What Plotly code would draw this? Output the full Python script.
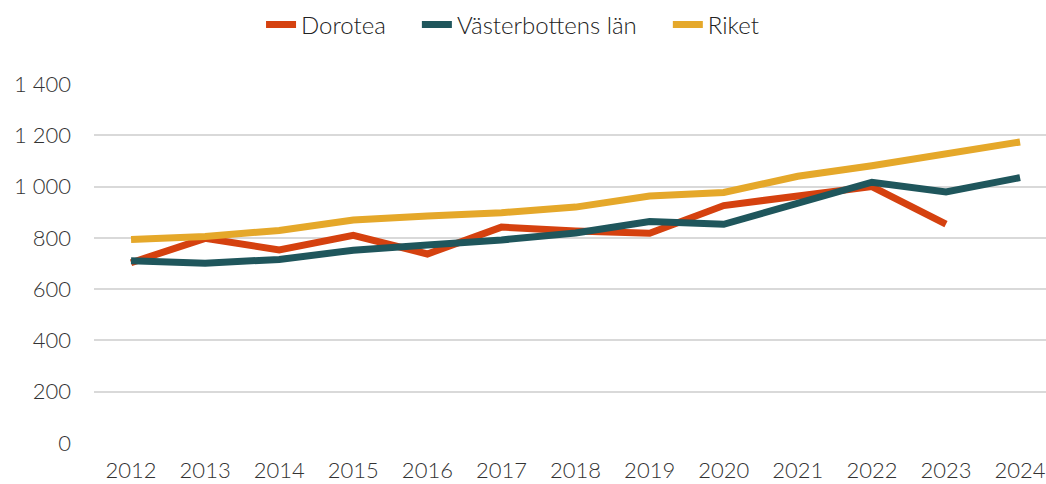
import plotly.graph_objects as go

years = list(range(2012, 2025))
dorotea = [703, 798, 753, 810, 737, 842, 827, 818, 926, 965, 1000, 854, None]
vasterbotten = [711, 701, 716, 752, 772, 792, 819, 864, 853, 937, 1017, 979, 1035]
riket = [794, 805, 829, 870, 885, 898, 920, 963, 977, 1040, 1081, 1128, 1174]
y_ticks = [0, 200, 400, 600, 800, 1000, 1200, 1400]

series = [("Dorotea", dorotea, "#D5410F"),
          ("Västerbottens län", vasterbotten, "#1F565C"),
          ("Riket", riket, "#E5A82A")]

font_family = "Lato, 'Open Sans', sans-serif"
pad = "\u00a0" * 4

fig = go.Figure()
for i, (name, vals, col) in enumerate(series):
    label = name + (pad if i < len(series) - 1 else "")
    fig.add_trace(go.Scatter(x=years, y=vals, name=label, mode="lines",
                             line=dict(color=col, width=7),
                             connectgaps=False))

fig.update_layout(
    width=1046, height=484,
    margin=dict(l=94, r=0, t=84, b=41),
    paper_bgcolor="white", plot_bgcolor="white",
    separators=", ",
    font=dict(family=font_family, size=22, color="#333333", weight=300),
    legend=dict(orientation="h", xref="container", yref="container",
                x=0.49, y=1 - 25 / 484, xanchor="center", yanchor="middle",
                font=dict(size=24, color="#222222", weight=300),
                tracegroupgap=0),
    showlegend=True,
)
fig.update_xaxes(range=[2011.5, 2024.35], tickvals=years,
                 ticktext=[str(y) for y in years],
                 showgrid=False, zeroline=False, showline=False,
                 ticks="", ticklabelstandoff=12, automargin=False)
fig.update_yaxes(range=[0, 1400], tickvals=y_ticks,
                 tickformat=",d", showgrid=True, gridcolor="#D9D9D9", gridwidth=2,
                 zeroline=False, showline=False, ticks="", ticklabelstandoff=22,
                 automargin=False)

fig.write_html("out.html", config={"displayModeBar": False},
               post_script="document.body.style.margin='0';document.body.style.overflow='hidden';")
